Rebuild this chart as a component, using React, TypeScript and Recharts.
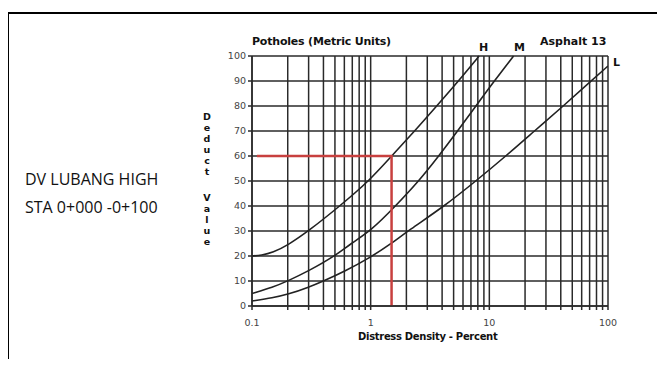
import React from "react";
import { LineChart, Line, XAxis, YAxis, CartesianGrid } from "recharts";

const xTicks = [
  0.1, 0.2, 0.3, 0.4, 0.5, 0.6, 0.7, 0.8, 0.9,
  1, 2, 3, 4, 5, 6, 7, 8, 9,
  10, 20, 30, 40, 50, 60, 70, 80, 90, 100,
];
const xLabels = [0.1, 1, 10, 100];
const yTicks = [0, 10, 20, 30, 40, 50, 60, 70, 80, 90, 100];

const hX = [0.1, 0.12, 0.15, 0.2, 0.3, 0.55, 0.97, 1.5, 2.35, 3.6, 5.5, 8.2];
const hY = [20, 20.3, 21.4, 24.3, 30, 40, 50, 60, 70, 80, 90, 100];

const mX = [0.1, 0.15, 0.2, 0.3, 0.5, 0.68, 1, 1.62, 2.55, 3.75, 5.4, 7.7, 11, 16];
const mY = [5, 7.5, 10, 14, 20, 25, 30, 40, 50, 60, 70, 80, 90, 100];

const lX = [0.1, 0.15, 0.2, 0.3, 0.4, 0.6, 1, 1.5, 2.05, 4.2, 7.7, 13.8, 24, 42, 72, 100];
const lY = [2, 3.3, 4.6, 7.5, 10, 13.8, 19.5, 25, 30, 40, 50, 60, 70, 80, 90, 96];

const redX = [0.11, 1.5, 1.5];
const redY = [60, 60, 0];

const toPts = (xs: number[], ys: number[]) => xs.map((x, i) => ({ x, y: ys[i] }));

const hData = toPts(hX, hY);
const mData = toPts(mX, mY);
const lData = toPts(lX, lY);
const redData = toPts(redX, redY);

const axisFont = "'DejaVu Sans', Verdana, sans-serif";
const deduct = ["D", "e", "d", "u", "c", "t"];
const value = ["V", "a", "l", "u", "e"];

export default function App() {
  return (
    <div style={{ position: "relative", width: 649, height: 351, fontFamily: axisFont }}>
      <div
        style={{
          position: "absolute",
          left: -1,
          top: 4,
          width: 656,
          height: 354,
          borderLeft: "2px solid #000",
          borderTop: "2px solid #000",
        }}
      />
      <div
        style={{
          position: "absolute",
          left: 17,
          top: 157,
          fontFamily: "'Liberation Sans Narrow', 'Arial Narrow', 'Open Sans', sans-serif",
          fontSize: 16,
          lineHeight: "28px",
          color: "#111",
          whiteSpace: "nowrap",
        }}
      >
        <div>DV LUBANG HIGH</div>
        <div>STA 0+000 -0+100</div>
      </div>
      <LineChart
        width={649}
        height={351}
        margin={{ top: 48, right: 49, left: 204, bottom: 23 }}
      >
        <CartesianGrid stroke="#2a2a2a" strokeWidth={1.5} />
        <XAxis
          dataKey="x"
          type="number"
          scale="log"
          domain={[0.1, 100]}
          ticks={xTicks}
          interval={0}
          allowDataOverflow
          height={30}
          tickSize={4}
          tickMargin={9}
          tickFormatter={(v: number) => (xLabels.includes(v) ? String(v) : "")}
          tick={{ fontSize: 9.5, fill: "#444", fontFamily: axisFont }}
          stroke="#2a2a2a"
          strokeWidth={1.5}
        />
        <YAxis
          dataKey="y"
          type="number"
          domain={[0, 100]}
          ticks={yTicks}
          interval={0}
          width={40}
          tickSize={4}
          tickMargin={2}
          tick={{ fontSize: 9.5, fill: "#444", fontFamily: axisFont }}
          stroke="#2a2a2a"
          strokeWidth={1.5}
        />
        <Line data={hData} dataKey="y" type="basis" stroke="#222" strokeWidth={1.6} dot={false} isAnimationActive={false} />
        <Line data={mData} dataKey="y" type="basis" stroke="#222" strokeWidth={1.6} dot={false} isAnimationActive={false} />
        <Line data={lData} dataKey="y" type="basis" stroke="#222" strokeWidth={1.6} dot={false} isAnimationActive={false} />
        <Line data={redData} dataKey="y" type="linear" stroke="#c8403f" strokeWidth={2.5} dot={false} isAnimationActive={false} />
      </LineChart>
      <div style={{ position: "absolute", left: 244, top: 27, fontSize: 11, fontWeight: "bold", letterSpacing: -0.2, color: "#111", whiteSpace: "nowrap" }}>
        Potholes (Metric Units)
      </div>
      <div style={{ position: "absolute", left: 532, top: 27, fontSize: 11, fontWeight: "bold", color: "#111", whiteSpace: "nowrap" }}>
        Asphalt 13
      </div>
      <div style={{ position: "absolute", left: 471, top: 33, fontSize: 11, fontWeight: "bold", color: "#111" }}>H</div>
      <div style={{ position: "absolute", left: 506, top: 33, fontSize: 11, fontWeight: "bold", color: "#111" }}>M</div>
      <div style={{ position: "absolute", left: 605, top: 48, fontSize: 11, fontWeight: "bold", color: "#111" }}>L</div>
      <div style={{ position: "absolute", left: 350, top: 323, fontSize: 10, fontWeight: "bold", letterSpacing: -0.3, color: "#111", whiteSpace: "nowrap" }}>
        Distress Density - Percent
      </div>
      <div style={{ position: "absolute", left: 193, top: 103, width: 12, textAlign: "center", fontSize: 9.5, fontWeight: "bold", lineHeight: "11px", color: "#111" }}>
        {deduct.map((c, i) => (
          <div key={"d" + i}>{c}</div>
        ))}
        <div style={{ height: 15 }} />
        {value.map((c, i) => (
          <div key={"v" + i}>{c}</div>
        ))}
      </div>
    </div>
  );
}
